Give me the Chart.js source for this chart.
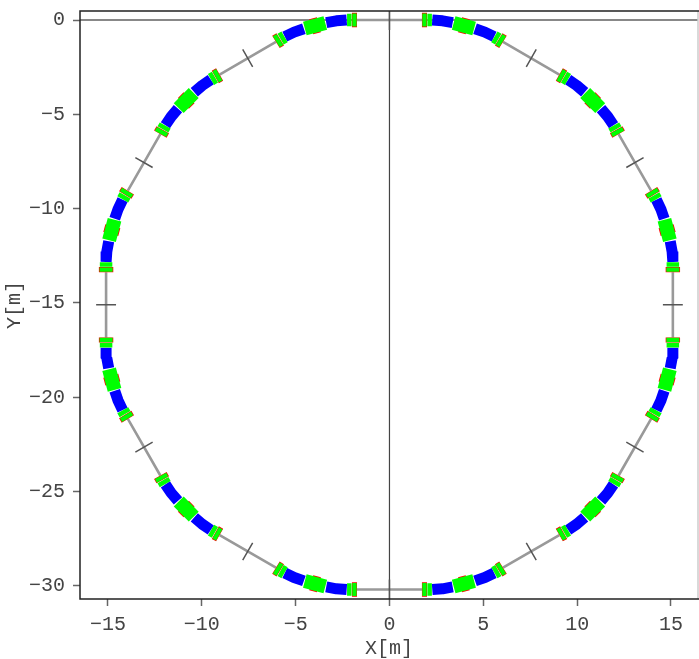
<!DOCTYPE html>
<html>
<head>
<meta charset="utf-8">
<title>Ring layout</title>
<script src="https://cdn.jsdelivr.net/npm/chart.js@4/dist/chart.umd.min.js"></script>
<style>
html, body { margin: 0; padding: 0; background: #fff; }
canvas { display: block; }
</style>
</head>
<body>
<canvas id="ringChart" width="699" height="659"></canvas>
<script>
// Tick labels
const xTickValues = [-15, -10, -5, 0, 5, 10, 15];
const yTickValues = [0, -5, -10, -15, -20, -25, -30];

// Bending magnets, three points per magnet, null = break in the line
const dipoleX = [
    2.28, 2.83, 3.37, null, 4.56, 5.08, 5.58, null, 9.52, 9.98, 10.40, null, 11.27, 11.63, 11.94, null, 14.22, 14.46, 14.64, null, 14.96, 15.06, 15.10, null,
    2.28, 2.83, 3.37, null, 4.56, 5.08, 5.58, null, 9.52, 9.98, 10.40, null, 11.27, 11.63, 11.94, null, 14.22, 14.46, 14.64, null, 14.96, 15.06, 15.10, null,
    -2.28, -2.83, -3.37, null, -4.56, -5.08, -5.58, null, -9.52, -9.98, -10.40, null, -11.27, -11.63, -11.94, null, -14.22, -14.46, -14.64, null, -14.96, -15.06, -15.10, null,
    -2.28, -2.83, -3.37, null, -4.56, -5.08, -5.58, null, -9.52, -9.98, -10.40, null, -11.27, -11.63, -11.94, null, -14.22, -14.46, -14.64, null, -14.96, -15.06, -15.10
];
const dipoleY = [
    0, -0.04, -0.14, null, -0.46, -0.64, -0.88, null, -3.16, -3.47, -3.83, null, -4.70, -5.12, -5.58, null, -9.52, -10.02, -10.54, null, -11.73, -12.27, -12.82, null,
    -30.2, -30.16, -30.06, null, -29.74, -29.56, -29.32, null, -27.04, -26.73, -26.37, null, -25.50, -25.08, -24.62, null, -20.68, -20.18, -19.66, null, -18.47, -17.93, -17.38, null,
    0, -0.04, -0.14, null, -0.46, -0.64, -0.88, null, -3.16, -3.47, -3.83, null, -4.70, -5.12, -5.58, null, -9.52, -10.02, -10.54, null, -11.73, -12.27, -12.82, null,
    -30.2, -30.16, -30.06, null, -29.74, -29.56, -29.32, null, -27.04, -26.73, -26.37, null, -25.50, -25.08, -24.62, null, -20.68, -20.18, -19.66, null, -18.47, -17.93, -17.38
];

// End quadrupoles next to the straights: red outline
const quadRedX = [
    1.73, 2.00, null, 5.82, 6.05, null, 9.05, 9.28, null, 12.08, 12.21, null, 13.94, 14.08, null, 15.10, 15.10, null,
    1.73, 2.00, null, 5.82, 6.05, null, 9.05, 9.28, null, 12.08, 12.21, null, 13.94, 14.08, null, 15.10, 15.10, null,
    -1.73, -2.00, null, -5.82, -6.05, null, -9.05, -9.28, null, -12.08, -12.21, null, -13.94, -14.08, null, -15.10, -15.10, null,
    -1.73, -2.00, null, -5.82, -6.05, null, -9.05, -9.28, null, -12.08, -12.21, null, -13.94, -14.08, null, -15.10, -15.10
];
const quadRedY = [
    0, 0, null, -1.02, -1.16, null, -2.89, -3.02, null, -5.82, -6.05, null, -9.05, -9.28, null, -13.10, -13.37, null,
    -30.2, -30.2, null, -29.18, -29.04, null, -27.31, -27.18, null, -24.38, -24.15, null, -21.15, -20.92, null, -17.10, -16.83, null,
    0, 0, null, -1.02, -1.16, null, -2.89, -3.02, null, -5.82, -6.05, null, -9.05, -9.28, null, -13.10, -13.37, null,
    -30.2, -30.2, null, -29.18, -29.04, null, -27.31, -27.18, null, -24.38, -24.15, null, -21.15, -20.92, null, -17.10, -16.83
];

// Same quadrupoles: green body inside the outline
const quadCoreX = [
    1.75, 1.98, null, 5.837, 6.033, null, 9.067, 9.263, null, 12.09, 12.2, null, 13.95, 14.07, null, 15.10, 15.10, null,
    1.75, 1.98, null, 5.837, 6.033, null, 9.067, 9.263, null, 12.09, 12.2, null, 13.95, 14.07, null, 15.10, 15.10, null,
    -1.75, -1.98, null, -5.837, -6.033, null, -9.067, -9.263, null, -12.09, -12.2, null, -13.95, -14.07, null, -15.10, -15.10, null,
    -1.75, -1.98, null, -5.837, -6.033, null, -9.067, -9.263, null, -12.09, -12.2, null, -13.95, -14.07, null, -15.10, -15.10
];
const quadCoreY = [
    0, 0, null, -1.03, -1.15, null, -2.9, -3.01, null, -5.837, -6.033, null, -9.067, -9.263, null, -13.12, -13.35, null,
    -30.2, -30.2, null, -29.17, -29.05, null, -27.3, -27.19, null, -24.363, -24.167, null, -21.133, -20.937, null, -17.08, -16.85, null,
    0, 0, null, -1.03, -1.15, null, -2.9, -3.01, null, -5.837, -6.033, null, -9.067, -9.263, null, -13.12, -13.35, null,
    -30.2, -30.2, null, -29.17, -29.05, null, -27.3, -27.19, null, -24.363, -24.167, null, -21.133, -20.937, null, -17.08, -16.85
];

// Second quadrupole of each doublet, plain green
const quadInnerX = [
    2.02, 2.26, null, 5.59, 5.80, null, 9.30, 9.51, null, 11.95, 12.07, null, 14.09, 14.21, null, 15.10, 15.10, null,
    2.02, 2.26, null, 5.59, 5.80, null, 9.30, 9.51, null, 11.95, 12.07, null, 14.09, 14.21, null, 15.10, 15.10, null,
    -2.02, -2.26, null, -5.59, -5.80, null, -9.30, -9.51, null, -11.95, -12.07, null, -14.09, -14.21, null, -15.10, -15.10, null,
    -2.02, -2.26, null, -5.59, -5.80, null, -9.30, -9.51, null, -11.95, -12.07, null, -14.09, -14.21, null, -15.10, -15.10
];
const quadInnerY = [
    0, 0, null, -0.89, -1.01, null, -3.03, -3.15, null, -5.59, -5.80, null, -9.30, -9.51, null, -12.84, -13.08, null,
    -30.2, -30.2, null, -29.31, -29.19, null, -27.17, -27.05, null, -24.61, -24.40, null, -20.90, -20.69, null, -17.36, -17.12, null,
    0, 0, null, -0.89, -1.01, null, -3.03, -3.15, null, -5.59, -5.80, null, -9.30, -9.51, null, -12.84, -13.08, null,
    -30.2, -30.2, null, -29.31, -29.19, null, -27.17, -27.05, null, -24.61, -24.40, null, -20.90, -20.69, null, -17.36, -17.12
];

// Centre quadrupole of each arc
const midGreenX = [
    3.42, 4.51, null, 10.43, 11.23, null, 14.65, 14.94, null,
    3.42, 4.51, null, 10.43, 11.23, null, 14.65, 14.94, null,
    -3.42, -4.51, null, -10.43, -11.23, null, -14.65, -14.94, null,
    -3.42, -4.51, null, -10.43, -11.23, null, -14.65, -14.94
];
const midGreenY = [
    -0.16, -0.45, null, -3.87, -4.67, null, -10.59, -11.68, null,
    -30.04, -29.75, null, -26.33, -25.53, null, -19.61, -18.52, null,
    -0.16, -0.45, null, -3.87, -4.67, null, -10.59, -11.68, null,
    -30.04, -29.75, null, -26.33, -25.53, null, -19.61, -18.52
];
const midRedX = [
    3.76, 4.17, null, 10.68, 10.98, null, 14.74, 14.85, null,
    3.76, 4.17, null, 10.68, 10.98, null, 14.74, 14.85, null,
    -3.76, -4.17, null, -10.68, -10.98, null, -14.74, -14.85, null,
    -3.76, -4.17, null, -10.68, -10.98, null, -14.74, -14.85
];
const midRedY = [
    -0.25, -0.36, null, -4.12, -4.42, null, -10.93, -11.34, null,
    -29.95, -29.84, null, -26.08, -25.78, null, -19.27, -18.86, null,
    -0.25, -0.36, null, -4.12, -4.42, null, -10.93, -11.34, null,
    -29.95, -29.84, null, -26.08, -25.78, null, -19.27, -18.86
];

// Straight sections between the arcs
const straightX = [
    -1.73, 1.73, null, 6.05, 9.05, null, 12.21, 13.94, null, 15.10, 15.10, null, 13.94, 12.21, null, 9.05, 6.05, null,
    1.73, -1.73, null, -6.05, -9.05, null, -12.21, -13.94, null, -15.10, -15.10, null, -13.94, -12.21, null, -9.05, -6.05
];
const straightY = [
    0, 0, null, -1.16, -2.89, null, -6.05, -9.05, null, -13.37, -16.83, null, -21.15, -24.15, null, -27.31, -29.04, null,
    -30.2, -30.2, null, -29.04, -27.31, null, -24.15, -21.15, null, -16.83, -13.37, null, -9.05, -6.05, null, -2.89, -1.16
];

// Cross marks at the middle of each straight
const markX = [
    0, 0, null, 7.29, 7.82, null, 12.62, 13.54, null, 14.57, 15.63, null, 12.62, 13.54, null, 7.29, 7.82, null,
    0, 0, null, -7.29, -7.82, null, -12.62, -13.54, null, -14.57, -15.63, null, -12.62, -13.54, null, -7.29, -7.82
];
const markY = [
    -0.53, 0.53, null, -2.48, -1.56, null, -7.82, -7.29, null, -15.10, -15.10, null, -22.38, -22.91, null, -27.72, -28.64, null,
    -29.67, -30.73, null, -27.72, -28.64, null, -22.38, -22.91, null, -15.10, -15.10, null, -7.82, -7.29, null, -2.48, -1.56
];

// Zero lines
const zeroHX = [-17, 17];
const zeroHY = [0, 0];
const zeroVX = [0, 0];
const zeroVY = [-31, 1];

const TICK_FONT = { family: "'Liberation Mono'", size: 20 };
const TITLE_FONT = { family: "'Liberation Mono'", size: 20, lineHeight: 1 };
const TEXT_COLOR = '#444';

function toPoints(xs, ys) {
    return xs.map((x, i) => ({ x: x, y: ys[i] }));
}

function ringLine(xs, ys, color, width) {
    return {
        data: toPoints(xs, ys),
        showLine: true,
        borderColor: color,
        borderWidth: width,
        borderCapStyle: 'butt',
        borderJoinStyle: 'bevel',
        pointRadius: 0,
        spanGaps: false
    };
}

function minusLabel(value) {
    return String(value).replace('-', '\u2212');
}

// Left, top and bottom edges are black, the right edge is a pale line
const frameBox = {
    id: 'frameBox',
    afterDatasetsDraw(chart) {
        const { ctx, chartArea } = chart;
        const { left, right, top, bottom } = chartArea;
        ctx.save();
        ctx.lineWidth = 1.5;
        ctx.strokeStyle = '#cccccc';
        ctx.beginPath();
        ctx.moveTo(right, top);
        ctx.lineTo(right, bottom);
        ctx.stroke();
        ctx.strokeStyle = '#222222';
        ctx.beginPath();
        ctx.moveTo(right + 1, top);
        ctx.lineTo(left, top);
        ctx.lineTo(left, bottom);
        ctx.lineTo(right + 1, bottom);
        ctx.stroke();
        ctx.restore();
    }
};

// First dataset ends up on top
new Chart(document.getElementById('ringChart'), {
    type: 'scatter',
    data: {
        datasets: [
            ringLine(midGreenX, midGreenY, '#00ff00', 14),
            ringLine(midRedX, midRedY, '#ff0000', 15.5),
            ringLine(quadCoreX, quadCoreY, '#00ff00', 13),
            ringLine(quadRedX, quadRedY, '#ff0000', 14.4),
            ringLine(quadInnerX, quadInnerY, '#00ff00', 12.5),
            ringLine(dipoleX, dipoleY, '#0000ff', 11),
            ringLine(markX, markY, '#555555', 1.5),
            ringLine(zeroVX, zeroVY, '#444444', 1.2),
            ringLine(straightX, straightY, '#999999', 2.6),
            ringLine(zeroHX, zeroHY, '#888888', 2)
        ]
    },
    plugins: [frameBox],
    options: {
        responsive: false,
        animation: false,
        layout: { padding: { top: 11, right: 1, left: 0, bottom: 0 } },
        plugins: {
            legend: { display: false },
            tooltip: { enabled: false }
        },
        scales: {
            x: {
                type: 'linear',
                min: -16.49,
                max: 16.44,
                afterFit: (scale) => { scale.height = 60; scale.paddingLeft = 0; scale.paddingRight = 0; },
                afterBuildTicks: (scale) => { scale.ticks = xTickValues.map((v) => ({ value: v })); },
                border: { display: false },
                grid: { drawOnChartArea: false, tickLength: 7, tickColor: '#666', tickWidth: 1.5 },
                ticks: {
                    font: TICK_FONT,
                    color: TEXT_COLOR,
                    padding: 7,
                    maxRotation: 0,
                    autoSkip: false,
                    callback: minusLabel
                },
                title: { display: true, text: 'X[m]', font: TITLE_FONT, color: TEXT_COLOR, padding: 0 }
            },
            y: {
                type: 'linear',
                min: -30.7,
                max: 0.48,
                afterFit: (scale) => { scale.width = 80; scale.paddingTop = 0; scale.paddingBottom = 0; },
                afterBuildTicks: (scale) => { scale.ticks = yTickValues.map((v) => ({ value: v })); },
                border: { display: false },
                grid: { drawOnChartArea: false, tickLength: 7, tickColor: '#666', tickWidth: 1.5 },
                ticks: {
                    font: TICK_FONT,
                    color: TEXT_COLOR,
                    padding: 8,
                    autoSkip: false,
                    callback: minusLabel
                },
                title: { display: true, text: 'Y[m]', font: TITLE_FONT, color: TEXT_COLOR, padding: { top: 5, bottom: 0 } }
            }
        }
    }
});
</script>
</body>
</html>
